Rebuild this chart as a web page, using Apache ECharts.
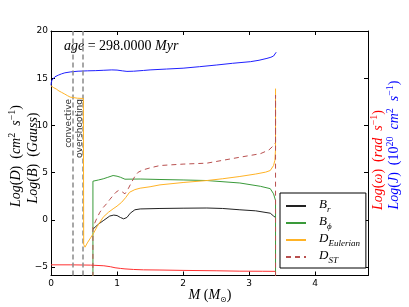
<!DOCTYPE html>
<html><head><meta charset="utf-8">
<script src="https://cdn.jsdelivr.net/npm/echarts@6/dist/echarts.min.js"></script>
<style>html,body{margin:0;padding:0;background:#fff}#c{width:409px;height:307px}</style>
</head><body><div id="c"></div>
<script>
// ---- data ----
const xTicks = [0, 1, 2, 3, 4];
const yTicks = [-5, 0, 5, 10, 15, 20];
const boundaries = [0.33, 0.48]; // convective boundary, overshooting boundary (M_sun)

const brM = [0.635, 0.68, 0.74, 0.8, 0.89, 0.95, 1.0, 1.05, 1.1, 1.15, 1.2, 1.27, 1.35, 1.65, 2.0, 2.36, 2.6, 2.86, 3.1, 3.32, 3.37, 3.40];
const brV = [-1.0, -0.7, -0.35, -0.05, 0.4, 0.5, 0.45, 0.25, 0.1, 0.25, 0.7, 1.06, 1.15, 1.2, 1.23, 1.25, 1.2, 1.06, 0.95, 0.7, 0.4, 0.25];

const bphiM = [0.635, 0.635, 0.66, 0.72, 0.79, 0.86, 0.94, 1.0, 1.05, 1.12, 1.35, 1.65, 2.0, 2.36, 2.86, 3.17, 3.32, 3.37, 3.40, 3.40];
const bphiV = [-7, 4.09, 4.15, 4.22, 4.34, 4.5, 4.69, 4.62, 4.51, 4.3, 4.32, 4.27, 4.22, 4.16, 3.9, 3.55, 3.3, 2.75, 2.04, -7];

const deulM = [0.0, 0.04, 0.08, 0.12, 0.16, 0.2, 0.25, 0.29, 0.31, 0.4, 0.49, 0.495, 0.515, 0.55, 0.6, 0.64, 0.7, 0.79, 0.87, 0.94, 1.0, 1.07, 1.13, 1.19, 1.27, 1.35, 1.5, 1.65, 2.0, 2.36, 2.6, 2.86, 3.1, 3.25, 3.32, 3.37, 3.39, 3.40, 3.40];
const deulV = [14.2, 14.0, 13.85, 13.65, 13.5, 13.35, 13.15, 13.0, 12.9, 12.88, 12.85, -2.6, -2.9, -2.45, -1.9, -1.48, -0.7, 0.28, 0.8, 1.16, 1.45, 1.86, 2.35, 2.92, 3.2, 3.35, 3.5, 3.7, 3.95, 4.16, 4.35, 4.59, 4.85, 5.05, 5.22, 5.75, 6.3, 7.5, 13.9];

const dstM = [0.635, 0.635, 0.69, 0.74, 0.79, 0.84, 0.89, 0.94, 0.98, 1.02, 1.07, 1.12, 1.17, 1.22, 1.27, 1.32, 1.4, 1.5, 1.65, 2.0, 2.36, 2.6, 2.86, 3.17, 3.3, 3.36, 3.40, 3.40, 3.40];
const dstV = [-7, -0.78, 0.1, 0.8, 1.3, 1.69, 2.15, 2.57, 2.9, 3.1, 3.0, 2.75, 3.3, 3.98, 4.6, 5.04, 5.3, 5.5, 5.75, 5.9, 6.0, 6.3, 6.63, 7.0, 7.4, 7.8, 8.2, 13.2, -7];

const jM = [0.0, 0.005, 0.015, 0.03, 0.06, 0.11, 0.16, 0.21, 0.3, 0.41, 0.55, 0.67, 0.8, 0.92, 1.0, 1.08, 1.15, 1.25, 1.4, 1.5, 1.75, 2.0, 2.25, 2.51, 2.75, 3.02, 3.15, 3.27, 3.33, 3.37, 3.39, 3.41];
const jV = [14.25, 14.55, 14.8, 15.0, 15.15, 15.32, 15.46, 15.57, 15.67, 15.74, 15.78, 15.8, 15.84, 15.88, 15.86, 15.78, 15.72, 15.74, 15.82, 15.88, 15.97, 16.06, 16.22, 16.4, 16.58, 16.75, 16.9, 17.1, 17.22, 17.35, 17.5, 17.75];

const wM = [0.0, 0.3, 0.6, 0.8, 0.9, 0.97, 1.05, 1.12, 1.25, 1.4, 1.65, 2.0, 2.5, 2.86, 3.2, 3.4];
const wV = [-4.77, -4.77, -4.8, -4.87, -4.97, -5.08, -5.15, -5.2, -5.26, -5.3, -5.32, -5.36, -5.4, -5.44, -5.45, -5.46];

const legendNames = ['B_r', 'B_phi', 'D_Eulerian', 'D_ST'];
// ---------------

const pairs = (xs, ys) => xs.map((x, i) => [x, ys[i]]);
const SERIF = 'Liberation Serif';
const SANS = 'DejaVu Sans';

function mathRich(size, col, mode) {
  const lh = 16;
  const baseVA = mode === 'sup' ? 'bottom' : 'top';
  return {
    i: {fontFamily: SERIF, fontStyle: 'italic', fontSize: size, color: col, lineHeight: lh, verticalAlign: baseVA},
    n: {fontFamily: SERIF, fontSize: size, color: col, lineHeight: lh, verticalAlign: baseVA},
    sup: {fontFamily: SERIF, fontSize: Math.round(size * 0.7), color: col, verticalAlign: 'top'},
    sub: {fontFamily: SERIF, fontStyle: 'italic', fontSize: Math.round(size * 0.7), color: col, verticalAlign: 'bottom'},
    subn: {fontFamily: SANS, fontSize: Math.round(size * 0.6), color: col, verticalAlign: 'bottom'}
  };
}

const legendLabels = {
  'B_r': '{i|B}{sub|r}',
  'B_phi': '{i|B}{sub|ϕ}',
  'D_Eulerian': '{i|D}{sub|Eulerian}',
  'D_ST': '{i|D}{sub|ST}'
};

const chart = echarts.init(document.getElementById('c'), null, {renderer: 'canvas'});

const axisCommon = {
  type: 'value',
  axisLine: {show: true, onZero: false, lineStyle: {color: '#000', width: 1}},
  splitLine: {show: false}
};
const tick = vals => ({show: true, inside: true, length: 4, lineStyle: {color: '#000'}, customValues: vals});

function vtext(txt, x, y, col, rich) {
  return {
    type: 'text', x: x, y: y, rotation: Math.PI / 2, silent: true,
    style: {text: txt, rich: rich, align: 'center', verticalAlign: 'middle', textAlign: 'center', textVerticalAlign: 'middle', fill: col}
  };
}

const option = {
  animation: false,
  backgroundColor: '#fff',
  grid: {left: 51, top: 31, right: 41, bottom: 31.5, containLabel: false},
  xAxis: [
    Object.assign({}, axisCommon, {
      position: 'bottom', min: 0, max: 4.8, axisTick: tick(xTicks),
      axisLabel: {show: true, customValues: xTicks, margin: 4, fontFamily: SANS, fontSize: 9, color: '#000'}
    }),
    Object.assign({}, axisCommon, {
      position: 'top', min: 0, max: 4.8, axisTick: tick(xTicks), axisLabel: {show: false}
    })
  ],
  yAxis: [
    Object.assign({}, axisCommon, {
      position: 'left', min: -5.9, max: 20, axisTick: tick(yTicks),
      axisLabel: {show: true, customValues: yTicks, margin: 3, fontFamily: SANS, fontSize: 9, color: '#000',
        formatter: v => (v < 0 ? '\u2212' + Math.abs(v) : String(v))}
    }),
    Object.assign({}, axisCommon, {
      position: 'right', min: -5.9, max: 20, axisTick: tick(yTicks), axisLabel: {show: false}
    })
  ],
  legend: {
    orient: 'vertical', left: 280, top: 193,
    padding: [5, 6, 3, 5], itemGap: 1, itemWidth: 20, itemHeight: 12,
    borderColor: '#000', borderWidth: 1, borderRadius: 0, backgroundColor: '#fff',
    itemStyle: {opacity: 0},
    data: legendNames,
    formatter: n => legendLabels[n],
    textStyle: {padding: [0, 0, 0, 8], fontFamily: SERIF, fontSize: 13, color: '#000', rich: mathRich(13, '#000', 'sub')}
  },
  series: [
    {name: 'B_r', type: 'line', symbol: 'none', data: pairs(brM, brV),
      lineStyle: {color: '#222', width: 1}, itemStyle: {color: '#222'}, z: 3,
      markLine: {silent: true, symbol: ['none', 'none'], label: {show: false},
        lineStyle: {color: '#8a8a8a', type: [5, 3], width: 1.5},
        data: boundaries.map(b => ({xAxis: b}))}},
    {name: 'B_phi', type: 'line', symbol: 'none', data: pairs(bphiM, bphiV),
      lineStyle: {color: '#3a9a3a', width: 1}, itemStyle: {color: '#3a9a3a'}, z: 4},
    {name: 'D_Eulerian', type: 'line', symbol: 'none', data: pairs(deulM, deulV),
      lineStyle: {color: '#ffb326', width: 1}, itemStyle: {color: '#ffb326'}, z: 5},
    {name: 'D_ST', type: 'line', symbol: 'none', data: pairs(dstM, dstV),
      lineStyle: {color: '#b8504f', width: 1, type: [5, 4]}, itemStyle: {color: '#b8504f'}, z: 6},
    {name: 'J', type: 'line', symbol: 'none', data: pairs(jM, jV),
      lineStyle: {color: '#2020ff', width: 1}, itemStyle: {color: '#2020ff'}, z: 4},
    {name: 'omega', type: 'line', symbol: 'none', data: pairs(wM, wV),
      lineStyle: {color: '#ff3030', width: 1}, itemStyle: {color: '#ff3030'}, z: 4}
  ],
  graphic: [
    {type: 'text', x: 64, y: 45, silent: true,
      style: {text: '{i|age}{n| = 298.0000 }{i|Myr}', rich: mathRich(14, '#000', 'sup'),
        align: 'left', verticalAlign: 'middle', textAlign: 'left', textVerticalAlign: 'middle'}},
    {type: 'text', x: 69, y: 99, rotation: Math.PI / 2, silent: true,
      style: {text: 'convective', font: '9px "DejaVu Sans"', fill: '#333', align: 'right', verticalAlign: 'middle', textAlign: 'right', textVerticalAlign: 'middle'}},
    {type: 'text', x: 79.5, y: 99, rotation: Math.PI / 2, silent: true,
      style: {text: 'overshooting', font: '9px "DejaVu Sans"', fill: '#333', align: 'right', verticalAlign: 'middle', textAlign: 'right', textVerticalAlign: 'middle'}},
    vtext('{i|Log}{n|(}{i|D}{n|)  (}{i|cm}{sup|2}{n|  }{i|s}{sup|\u22121}{n|)}', 15, 156, '#000', mathRich(14, '#000', 'sup')),
    vtext('{i|Log}{n|(}{i|B}{n|)  (}{i|Gauss}{n|)}', 32, 158, '#000', mathRich(14, '#000', 'sup')),
    vtext('{i|Log}{n|(}{i|ω}{n|)  (}{i|rad}{n|  }{i|s}{sup|\u22121}{n|)}', 377, 160, '#ff0000', mathRich(14, '#ff0000', 'sup')),
    vtext('{i|Log}{n|(}{i|J}{n|)  (10}{sup|20}{n|  }{i|cm}{sup|2}{n|  }{i|s}{sup|\u22121}{n|)}', 393, 145, '#0000ff', mathRich(14, '#0000ff', 'sup')),
    {type: 'text', x: 210, y: 296, silent: true,
      style: {text: '{i|M}{n| (}{i|M}{subn|\u2299}{n|)}', rich: mathRich(14, '#000', 'sub'),
        align: 'center', verticalAlign: 'middle', textAlign: 'center', textVerticalAlign: 'middle'}}
  ]
};
chart.setOption(option);
</script>
</body></html>
